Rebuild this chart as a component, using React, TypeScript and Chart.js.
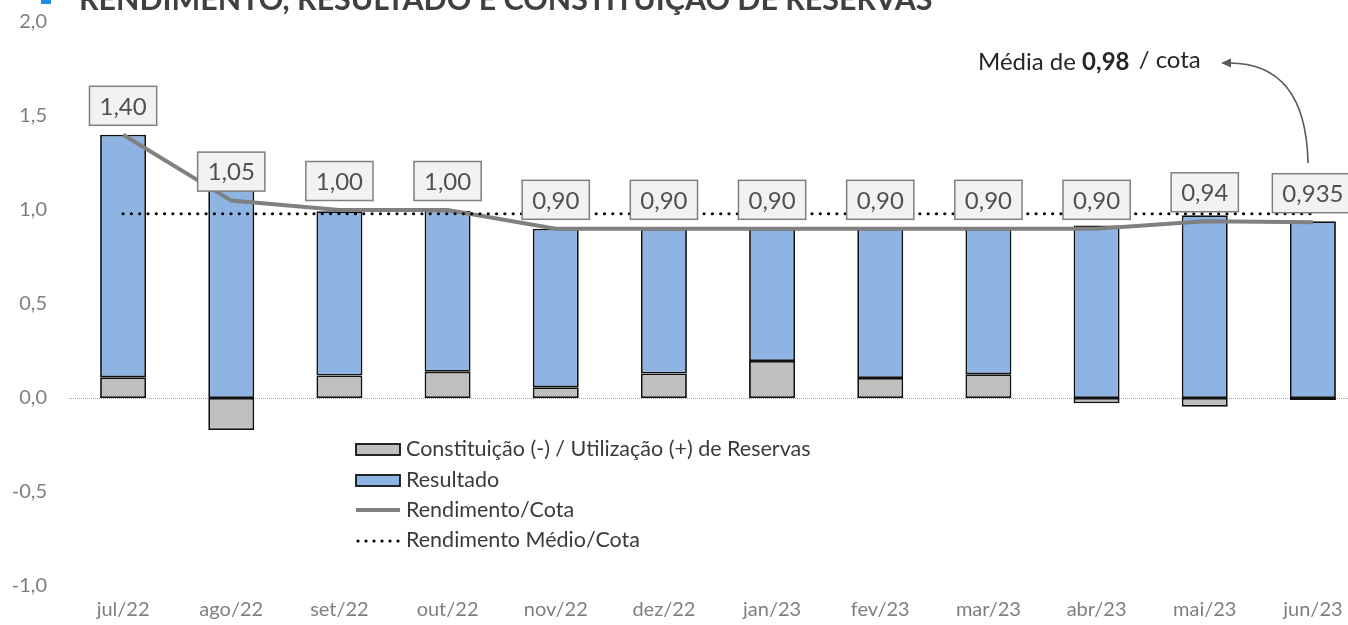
import React, { useEffect, useRef } from 'react';
import { Chart, registerables } from 'chart.js';

Chart.register(...registerables);

const categories = ['jul/22', 'ago/22', 'set/22', 'out/22', 'nov/22', 'dez/22', 'jan/23', 'fev/23', 'mar/23', 'abr/23', 'mai/23', 'jun/23'];
const reservas = [0.11, -0.17, 0.12, 0.14, 0.057, 0.13, 0.197, 0.106, 0.126, -0.028, -0.046, -0.01];
const resultado = [1.29, 1.22, 0.873, 0.856, 0.843, 0.77, 0.703, 0.794, 0.774, 0.918, 0.972, 0.94];
const rendimento = [1.40, 1.05, 1.00, 1.00, 0.90, 0.90, 0.90, 0.90, 0.90, 0.90, 0.94, 0.935];
const rendimentoLabels = ['1,40', '1,05', '1,00', '1,00', '0,90', '0,90', '0,90', '0,90', '0,90', '0,90', '0,94', '0,935'];
const media = [0.98, 0.98, 0.98, 0.98, 0.98, 0.98, 0.98, 0.98, 0.98, 0.98, 0.98, 0.98];
const yTicks = { min: -1, max: 2, step: 0.5 };
const legendLabels = ['Constituição (-) / Utilização (+) de Reservas', 'Resultado', 'Rendimento/Cota', 'Rendimento Médio/Cota'];
const titleText = 'RENDIMENTO, RESULTADO E CONSTITUIÇÃO DE RESERVAS';
const noteParts = ['Média de ', '0,98', ' / cota'];

const FONT = 'Lato';
const GRAY_BAR = '#BFBFBF';
const BLUE_BAR = '#8EB4E3';
const LINE_GRAY = '#808080';
const EDGE = '#111111';

export default function App() {
  const ref = useRef<HTMLCanvasElement>(null);

  useEffect(() => {
    const canvas = ref.current;
    if (!canvas) return;

    const overlay = {
      id: 'overlay',
      beforeDatasetsDraw(chart: any) {
        const { ctx, chartArea, scales } = chart;
        const y0 = Math.round(scales.y.getPixelForValue(0)) + 0.5;
        ctx.save();
        ctx.strokeStyle = '#A6A6A6';
        ctx.lineWidth = 1;
        ctx.setLineDash([1, 1]);
        ctx.beginPath();
        ctx.moveTo(chartArea.left, y0);
        ctx.lineTo(chartArea.right, y0);
        ctx.stroke();
        ctx.restore();
      },
      afterDatasetsDraw(chart: any) {
        const { ctx } = chart;
        const meta = chart.getDatasetMeta(1);
        ctx.save();
        ctx.font = `24px ${FONT}`;
        meta.data.forEach((pt: any, i: number) => {
          const text = rendimentoLabels[i];
          const w = ctx.measureText(text).width + 20;
          const h = 39;
          const cx = pt.x;
          const cy = pt.y - 29;
          ctx.fillStyle = '#F2F2F2';
          ctx.fillRect(cx - w / 2, cy - h / 2, w, h);
          ctx.strokeStyle = '#7F7F7F';
          ctx.lineWidth = 1.5;
          ctx.strokeRect(cx - w / 2, cy - h / 2, w, h);
          ctx.fillStyle = '#505050';
          ctx.textAlign = 'center';
          ctx.textBaseline = 'middle';
          ctx.fillText(text, cx, cy + 1);
        });
        ctx.restore();
      },
      afterDraw(chart: any) {
        const { ctx } = chart;
        ctx.save();
        // title
        ctx.font = `bold 24px ${FONT}`;
        const tw = ctx.measureText(titleText).width;
        const size = 24 * 854 / tw;
        ctx.font = `bold ${size.toFixed(1)}px ${FONT}`;
        ctx.fillStyle = '#404040';
        ctx.textAlign = 'left';
        ctx.textBaseline = 'alphabetic';
        ctx.fillText(titleText, 79, 9.5);
        ctx.fillStyle = '#1F8FE5';
        ctx.fillRect(41, 0, 10, 4);

        // legend
        const rowsY = [449, 480, 510, 540];
        const sx = 356;
        const sw = 44;
        ctx.font = `21.5px ${FONT}`;
        ctx.textBaseline = 'middle';
        ctx.textAlign = 'left';
        rowsY.forEach((ry, i) => {
          if (i < 2) {
            ctx.fillStyle = i === 0 ? GRAY_BAR : BLUE_BAR;
            ctx.fillRect(sx, ry - 5, sw, 11);
            ctx.strokeStyle = EDGE;
            ctx.lineWidth = 1.8;
            ctx.strokeRect(sx, ry - 5, sw, 11);
          } else if (i === 2) {
            ctx.strokeStyle = LINE_GRAY;
            ctx.lineWidth = 4;
            ctx.beginPath();
            ctx.moveTo(sx, ry);
            ctx.lineTo(sx + sw, ry);
            ctx.stroke();
          } else {
            ctx.strokeStyle = '#000';
            ctx.lineWidth = 3.2;
            ctx.lineCap = 'round';
            ctx.setLineDash([0, 8]);
            ctx.beginPath();
            ctx.moveTo(sx + 2, ry + 1);
            ctx.lineTo(sx + sw, ry + 1);
            ctx.stroke();
            ctx.setLineDash([]);
            ctx.lineCap = 'butt';
          }
          ctx.fillStyle = '#3A3A3A';
          ctx.fillText(legendLabels[i], 406, ry);
        });

        // annotation
        ctx.textBaseline = 'alphabetic';
        ctx.fillStyle = '#262626';
        let x = 978;
        ctx.font = `24px ${FONT}`;
        ctx.fillText(noteParts[0], x, 70);
        x += ctx.measureText(noteParts[0]).width;
        ctx.font = `bold 24px ${FONT}`;
        ctx.fillText(noteParts[1], x, 70);
        x += ctx.measureText(noteParts[1]).width;
        ctx.font = `24px ${FONT}`;
        ctx.fillText(noteParts[2], x + 3, 68);

        // arrow
        ctx.strokeStyle = '#595959';
        ctx.fillStyle = '#595959';
        ctx.lineWidth = 1.6;
        ctx.beginPath();
        ctx.moveTo(1308, 163);
        ctx.quadraticCurveTo(1306, 63, 1229, 63);
        ctx.stroke();
        ctx.beginPath();
        ctx.moveTo(1221, 63);
        ctx.lineTo(1231, 58.5);
        ctx.lineTo(1231, 67.5);
        ctx.closePath();
        ctx.fill();
        ctx.restore();
      },
    };

    const chart = new Chart(canvas, {
      type: 'bar',
      data: {
        labels: categories,
        datasets: [
          {
            type: 'line',
            label: legendLabels[3],
            data: media,
            borderColor: '#000000',
            borderWidth: 3.2,
            borderDash: [0, 8.3],
            borderCapStyle: 'round',
            pointRadius: 0,
            fill: false,
            stack: 'media',
            order: 0,
          } as any,
          {
            type: 'line',
            label: legendLabels[2],
            data: rendimento,
            borderColor: LINE_GRAY,
            borderWidth: 4,
            pointRadius: 0,
            tension: 0,
            fill: false,
            stack: 'rend',
            order: 1,
          } as any,
          {
            type: 'bar',
            label: legendLabels[0],
            data: reservas,
            backgroundColor: GRAY_BAR,
            borderColor: EDGE,
            borderWidth: 1.8,
            borderSkipped: false,
            stack: 'bars',
            order: 2,
          } as any,
          {
            type: 'bar',
            label: legendLabels[1],
            data: resultado,
            backgroundColor: BLUE_BAR,
            borderColor: EDGE,
            borderWidth: 1.8,
            borderSkipped: false,
            stack: 'bars',
            order: 3,
          } as any,
        ],
      },
      options: {
        responsive: false,
        animation: false,
        layout: { padding: { top: 22, left: 0, right: 0, bottom: 0 } },
        datasets: { bar: { barPercentage: 0.425, categoryPercentage: 1 } },
        plugins: { legend: { display: false }, tooltip: { enabled: false }, title: { display: false } },
        scales: {
          x: {
            stacked: true,
            grid: { display: false, drawTicks: false },
            border: { display: false },
            ticks: { color: '#7F7F7F', font: { family: FONT, size: 20 }, padding: 12, maxRotation: 0, autoSkip: false },
            afterFit: (s: any) => { s.height = 39; },
          },
          y: {
            stacked: true,
            min: yTicks.min,
            max: yTicks.max,
            grid: { display: false, drawTicks: false },
            border: { display: false },
            ticks: {
              stepSize: yTicks.step,
              color: '#7F7F7F',
              font: { family: FONT, size: 20 },
              padding: 22,
              callback: (v: any) => Number(v).toFixed(1).replace('.', ','),
            },
            afterFit: (s: any) => { s.width = 69; s.paddingTop = 0; s.paddingBottom = 0; },
          },
        },
      } as any,
      plugins: [overlay],
    });

    return () => chart.destroy();
  }, []);

  return (
    <div style={{ position: 'fixed', left: 0, top: 0, width: 1348, height: 625, overflow: 'hidden', background: '#fff' }}>
      <canvas ref={ref} width={1367} height={625} style={{ display: 'block', width: 1367, height: 625 }} />
    </div>
  );
}
